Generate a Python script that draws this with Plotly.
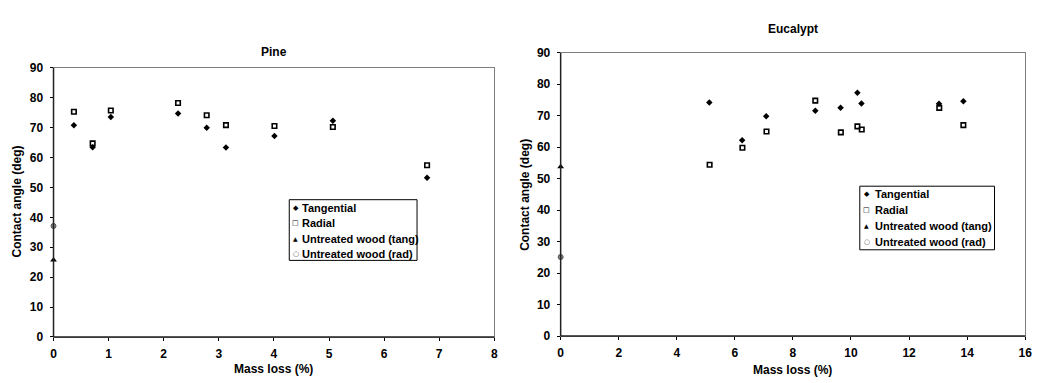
import plotly.graph_objects as go

# ---- Data ----
pine_x = [0.37, 0.71, 1.04, 2.26, 2.78, 3.13, 4.01, 5.07, 6.78]
pine_tang = [70.8, 63.4, 73.5, 74.7, 69.9, 63.3, 67.2, 72.3, 53.2]
pine_rad = [75.3, 64.7, 75.7, 78.2, 74.1, 70.8, 70.5, 70.2, 57.4]
pine_untreated_tang = [25.7]
pine_untreated_rad = [37.1]

euc_x_tang = [5.12, 6.25, 7.08, 8.77, 9.64, 10.22, 10.36, 13.03, 13.87]
euc_tang = [74.2, 62.2, 69.8, 71.6, 72.5, 77.3, 73.9, 73.8, 74.6]
euc_x_rad = [5.13, 6.26, 7.09, 8.77, 9.65, 10.22, 10.37, 13.04, 13.87]
euc_rad = [54.4, 59.8, 65.0, 74.8, 64.7, 66.6, 65.6, 72.5, 67.0]
euc_untreated_tang = [53.8]
euc_untreated_rad = [25.1]

series_names = ["Tangential", "Radial", "Untreated wood (tang)", "Untreated wood (rad)"]
legend_symbols = ["\u25c6", "\u25a1", "\u25b2", "\u25cb"]
FONT = "Liberation Sans, Arial, sans-serif"

W, H = 1054, 383

fig = go.Figure()


def add_set(xt, yt, xr, yr, yut, yur, xa, ya):
    fig.add_trace(go.Scatter(x=xt, y=yt, mode="markers", name=series_names[0],
                             marker=dict(symbol="diamond", size=5, color="black"),
                             xaxis=xa, yaxis=ya, showlegend=False, cliponaxis=False))
    fig.add_trace(go.Scatter(x=xr, y=yr, mode="markers", name=series_names[1],
                             marker=dict(symbol="square-open", size=4.5, color="black",
                                         line=dict(width=1.6)),
                             xaxis=xa, yaxis=ya, showlegend=False, cliponaxis=False))
    fig.add_trace(go.Scatter(x=[0] * len(yut), y=yut, mode="markers", name=series_names[2],
                             marker=dict(symbol="triangle-up", size=6, color="black"),
                             xaxis=xa, yaxis=ya, showlegend=False, cliponaxis=False))
    fig.add_trace(go.Scatter(x=[0] * len(yur), y=yur, mode="markers", name=series_names[3],
                             marker=dict(symbol="circle", size=5, color="#888888",
                                         line=dict(width=1, color="#555555")),
                             xaxis=xa, yaxis=ya, showlegend=False, cliponaxis=False))


add_set(pine_x, pine_tang, pine_x, pine_rad, pine_untreated_tang, pine_untreated_rad, "x", "y")
add_set(euc_x_tang, euc_tang, euc_x_rad, euc_rad, euc_untreated_tang, euc_untreated_rad, "x2", "y2")


def px(v):
    return v / W


def py(v):
    return 1 - v / H


def xd(a, b):
    return [px(a), px(b)]


def yd(top, bottom):
    return [py(bottom), py(top)]


tickfont = dict(family=FONT, size=12, color="black", weight=700)
axis_common = dict(showgrid=False, zeroline=False, showline=True, linecolor="#808080",
                   linewidth=1, mirror=True, ticks="outside", ticklen=3, tickcolor="black",
                   tickwidth=1, tickfont=tickfont)

fig.update_layout(
    width=W, height=H, margin=dict(l=0, r=0, t=0, b=0),
    paper_bgcolor="white", plot_bgcolor="white",
    font=dict(family=FONT, color="black"),
    showlegend=False,
    xaxis=dict(domain=xd(51, 496), range=[0, 8], dtick=1, anchor="y",
               ticklabelstandoff=3, **axis_common),
    yaxis=dict(domain=yd(63, 342.5), range=[0, 90], dtick=10, anchor="x",
               ticklabelstandoff=4, **axis_common),
    xaxis2=dict(domain=xd(563, 1032), range=[0, 16], dtick=2, anchor="y2",
                ticklabelstandoff=3, **axis_common),
    yaxis2=dict(domain=yd(47.5, 341.5), range=[0, 90], dtick=10, anchor="x2",
                ticklabelstandoff=4, **axis_common),
)

ann_font = dict(family=FONT, size=12, color="black", weight=700)


def ann(text, x, y, **kw):
    params = dict(xref="paper", yref="paper", showarrow=False, font=ann_font,
                  xanchor="center", yanchor="middle")
    params.update(kw)
    fig.add_annotation(text=text, x=px(x), y=py(y), **params)


ann("Pine", (51 + 496) / 2, 47)
ann("Eucalypt", (563 + 1032) / 2, 23)
ann("Mass loss (%)", (51 + 496) / 2, 376, borderpad=0)
ann("Mass loss (%)", (563 + 1032) / 2, 376.5, borderpad=0)
ann("Contact angle (deg)", 14, 202, textangle=-90)
ann("Contact angle (deg)", 527, 195, textangle=-90)

# dark left and bottom axis lines
for xr_, yr_ in [("x domain", "y domain"), ("x2 domain", "y2 domain")]:
    fig.add_shape(type="line", xref=xr_, yref=yr_, x0=0, x1=0, y0=0, y1=1,
                  line=dict(color="#222222", width=1.5))
    fig.add_shape(type="line", xref=xr_, yref=yr_, x0=0, x1=1, y0=0, y1=0,
                  line=dict(color="#222222", width=1.5))


# ---- legends (compact, drawn as box + text rows) ----
def legend_box(x0, y0, x1, y1, sym_x, text_x, row_y0, row_dy):
    fig.add_shape(type="rect", xref="paper", yref="paper",
                  x0=px(x0), x1=px(x1), y0=py(y1), y1=py(y0),
                  line=dict(color="black", width=1), fillcolor="white", layer="above")
    sym_sizes = [7, 7, 6, 7]
    for i, (name, sym) in enumerate(zip(series_names, legend_symbols)):
        y = row_y0 + i * row_dy
        color = "#555555" if i == 3 else "black"
        ann(sym, sym_x, y, font=dict(family="DejaVu Sans", size=sym_sizes[i], color=color))
        ann(name, text_x, y, xanchor="left",
            font=dict(family=FONT, size=11, color="black", weight=700))


legend_box(289, 200, 418, 263, 295.5, 300, 209, 15.7)
legend_box(865, 186, 1001, 252, 872, 878, 194.5, 16.3)

fig.write_html("out.html")
